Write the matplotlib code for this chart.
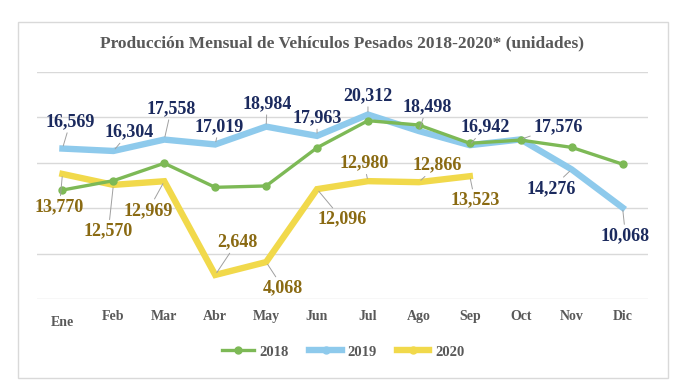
import matplotlib
matplotlib.use("Agg")
import matplotlib.pyplot as plt
from matplotlib.patches import Rectangle
from matplotlib.lines import Line2D

months = ["Ene", "Feb", "Mar", "Abr", "May", "Jun", "Jul", "Ago", "Sep", "Oct", "Nov", "Dic"]
prod_2018 = [12000, 13030, 14950, 12300, 12450, 16660, 19640, 19160, 17150, 17500, 16700, 14850]
prod_2019 = [16569, 16304, 17558, 17019, 18984, 17963, 20312, 18498, 16942, 17576, 14276, 10068]
prod_2020 = [13770, 12570, 12969, 2648, 4068, 12096, 12980, 12866, 13523]

# label offsets in pixels (label centre minus point)
off_2019 = [(8, 27), (16, 19), (7, 31), (4, 18), (1, 23), (0, 18), (0, 19),
            (8, 24), (15, 18), (37, 13), (-20, -19), (3, -28)]
off_2020 = [(-3, -33), (-5, -46), (-16, -29), (22, 33), (17, -26), (25, -30),
            (-4, 18), (18, 17), (5, -24)]

green = "#7DB956"
blue = "#8ECAEC"
yellow = "#F1D94B"
navy = "#1B2A5E"
gold = "#8A6A12"
gray = "#595959"
serif = ["Liberation Serif", "DejaVu Serif"]

fig = plt.figure(figsize=(6.88, 3.85), dpi=100)
fig.patches.append(Rectangle((18 / 688, 1 - 378 / 385), 650 / 688, 356 / 385,
                             transform=fig.transFigure, fill=False,
                             edgecolor="#D9D9D9", lw=1))
ax = fig.add_axes([37 / 688, 1 - 299 / 385, 611 / 688, 227 / 385])

x = list(range(len(months)))
ax.plot(x, prod_2018, color=green, lw=2.4, marker="o", ms=5, zorder=3)
ax.plot(x, prod_2019, color=blue, lw=4.6, solid_joinstyle="miter", zorder=2)
ax.plot(x[:len(prod_2020)], prod_2020, color=yellow, lw=4.6, solid_joinstyle="miter", zorder=2)

def labels(vals, offs, color):
    for i, (v, o) in enumerate(zip(vals, offs)):
        ax.annotate(f"{v:,}", xy=(i, v), xytext=o, textcoords="offset pixels",
                    ha="center", va="center", fontsize=13, fontweight="bold",
                    family=serif, color=color, zorder=5, annotation_clip=False,
                    arrowprops=dict(arrowstyle="-", color="#A0A0A0", lw=0.7,
                                    shrinkA=0, shrinkB=2))

labels(prod_2019, off_2019, navy)
labels(prod_2020, off_2020, gold)

ax.set_xlim(-0.5, 11.5)
ax.set_ylim(0, 25000)
ax.set_yticks(range(0, 25001, 5000))
ax.yaxis.grid(True, color="#D9D9D9", lw=1)
ax.tick_params(axis="y", left=False, labelleft=False)
ax.tick_params(axis="x", length=0, pad=8)
ax.set_xticks(x)
ax.set_xticklabels(months, fontsize=10, fontweight="bold", family=serif, color=gray)
# first month label sits a little lower in the original
ax.get_xticklabels()[0].set_y(-0.025)
for s in ax.spines.values():
    s.set_visible(False)
ax.set_axisbelow(True)

fig.text(342 / 688, 1 - 43 / 385, "Producción Mensual de Vehículos Pesados 2018-2020* (unidades)",
         ha="center", va="center", fontsize=12.5, fontweight="bold", family=serif, color=gray)

handles = [Line2D([], [], color=green, lw=2.4, marker="o", ms=5),
           Line2D([], [], color=blue, lw=4.6, marker="o", ms=5),
           Line2D([], [], color=yellow, lw=4.6, marker="o", ms=5)]
fig.legend(handles, ["2018", "2019", "2020"], loc="center", bbox_to_anchor=(343 / 688, 1 - 352 / 385),
           ncol=3, frameon=False, handlelength=2.2, columnspacing=1.4, handletextpad=0.4,
           prop={"family": serif, "weight": "bold", "size": 10.5}, labelcolor=gray)

fig.savefig("out.png", dpi=100)
